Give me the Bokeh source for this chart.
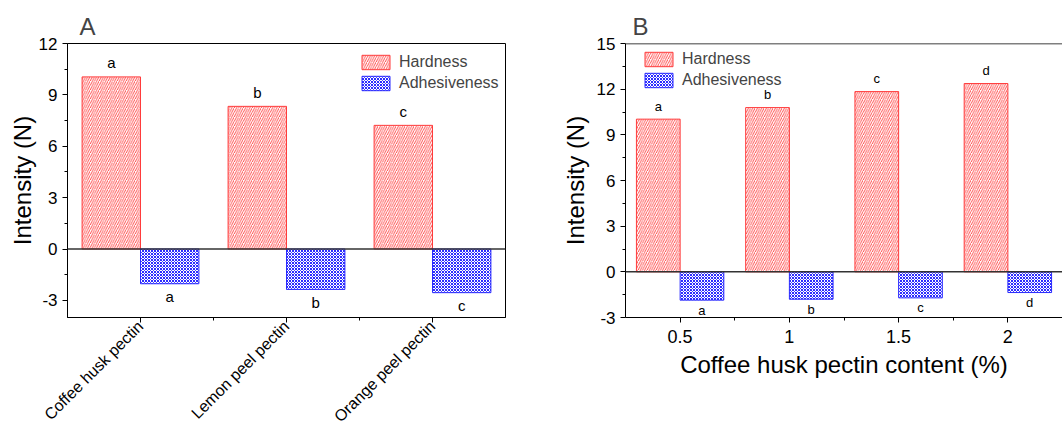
import math
from bokeh.plotting import figure
from bokeh.layouts import row
from bokeh.models import ColumnDataSource, FixedTicker, Span, Legend, LegendItem
from bokeh.transform import dodge
from bokeh.core.properties import value
from bokeh.embed import file_html
from bokeh.resources import INLINE

FONT = "Liberation Sans"

# ---------------- data ----------------
series = ["Hardness", "Adhesiveness"]

a_categories = ["Coffee husk pectin", "Lemon peel pectin", "Orange peel pectin"]
a_hardness = [10.05, 8.33, 7.22]
a_adhesiveness = [-2.03, -2.36, -2.55]
a_hard_letters = ["a", "b", "c"]
a_adh_letters = ["a", "b", "c"]
a_yticks = [-3, 0, 3, 6, 9, 12]

b_content = [0.5, 1.0, 1.5, 2.0]
b_tick_labels = ["0.5", "1", "1.5", "2"]
b_hardness = [10.03, 10.79, 11.84, 12.37]
b_adhesiveness = [-1.86, -1.80, -1.71, -1.36]
b_hard_letters = ["a", "b", "c", "d"]
b_adh_letters = ["a", "b", "c", "d"]
b_yticks = [-3, 0, 3, 6, 9, 12, 15]

RED = "#ff3b3b"
BLUE = "#2b2bff"


def style_axes(p):
    for ax in (p.xaxis[0], p.yaxis[0]):
        ax.axis_line_color = "black"
        ax.axis_line_width = 1
        ax.major_tick_line_color = "black"
        ax.minor_tick_line_color = "black"
        ax.major_tick_out = 5
        ax.major_tick_in = 0
        ax.minor_tick_out = 3
        ax.minor_tick_in = 0
        ax.major_label_text_font = FONT
        ax.axis_label_text_font = FONT
        ax.axis_label_text_font_style = "normal"
        ax.axis_label_text_color = "black"
        ax.major_label_text_color = "black"
    p.xgrid.visible = False
    p.ygrid.visible = False


def bars(p, src, width, off_h, off_a):
    rh = p.vbar(x=dodge("x", off_h), top="hard", bottom=0, width=width, source=src,
                fill_color="white", line_color=RED, line_width=1,
                hatch_pattern="/", hatch_color=RED, hatch_scale=4.5, hatch_weight=0.9)
    ra = p.vbar(x=dodge("x", off_a), top=0, bottom="adh", width=width, source=src,
                fill_color="white", line_color=BLUE, line_width=1,
                hatch_pattern="x", hatch_color=BLUE, hatch_scale=3, hatch_weight=1)
    return rh, ra


def add_legend(p, rh, ra, loc):
    leg = Legend(items=[LegendItem(label=series[0], renderers=[rh]),
                        LegendItem(label=series[1], renderers=[ra])],
                 location=loc, glyph_width=35, glyph_height=18, label_height=18,
                 spacing=3, padding=0, margin=0, label_standoff=6,
                 label_text_font=FONT, label_text_font_size="16px",
                 border_line_color=None, background_fill_alpha=0)
    p.add_layout(leg)


def title(p, txt, off):
    p.title.text = txt
    p.title.text_font = FONT
    p.title.text_font_size = "24px"
    p.title.text_font_style = "normal"
    p.title.offset = off
    p.title.standoff = 7


# ---------------- panel A ----------------
a_x = [i + 1 for i in range(len(a_categories))]
srcA = ColumnDataSource(dict(x=a_x, hard=a_hardness, adh=a_adhesiveness,
                             lh=a_hard_letters, la=a_adh_letters))
pA = figure(width=530, height=434, x_range=(0.5, 3.5), y_range=(-4, 12),
            output_backend="svg", toolbar_location=None,
            min_border_left=67, min_border_right=25, min_border_top=43, min_border_bottom=116)
pA.outline_line_color = "black"
pA.outline_line_width = 1
pA.outline_line_alpha = 1
rh, ra = bars(pA, srcA, 0.4, -0.2, 0.2)
pA.add_layout(Span(location=0, dimension="width", line_color="#333333", line_width=1.5))
pA.text(x=dodge("x", -0.2), y="hard", text="lh", source=srcA, y_offset=-14,
        text_align="center", text_baseline="alphabetic",
        text_font=value(FONT), text_font_size="15px", text_color="black")
pA.text(x=dodge("x", 0.2), y="adh", text="la", source=srcA, y_offset=13,
        text_align="center", text_baseline="alphabetic",
        text_font=value(FONT), text_font_size="15px", text_color="black")
style_axes(pA)
pA.xaxis.ticker = FixedTicker(ticks=a_x, minor_ticks=[1.5, 2.5])
pA.xaxis.major_label_overrides = {x: c for x, c in zip(a_x, a_categories)}
pA.xaxis.major_label_orientation = math.pi / 4
pA.xaxis.major_label_text_font_size = "16px"
pA.xaxis.major_label_standoff = 1
pA.yaxis.ticker = FixedTicker(ticks=a_yticks, minor_ticks=[-1.5, 1.5, 4.5, 7.5, 10.5])
pA.yaxis.major_label_overrides = {t: str(t) for t in a_yticks}
pA.yaxis.major_label_text_font_size = "17px"
pA.yaxis.axis_label = "Intensity (N)"
pA.yaxis.axis_label_text_font_size = "24px"
pA.yaxis.axis_label_standoff = 0
title(pA, "A", 12)
add_legend(pA, rh, ra, (291, 225))

# ---------------- panel B ----------------
srcB = ColumnDataSource(dict(x=b_content, hard=b_hardness, adh=b_adhesiveness,
                             lh=b_hard_letters, la=b_adh_letters))
pB = figure(width=532, height=434, x_range=(0.25, 2.25), y_range=(-3, 15),
            output_backend="svg", toolbar_location=None,
            min_border_left=95, min_border_right=0, min_border_top=43, min_border_bottom=116)
pB.outline_line_color = None
rh2, ra2 = bars(pB, srcB, 0.2, -0.1, 0.1)
pB.add_layout(Span(location=0, dimension="width", line_color="#333333", line_width=1.5))
pB.add_layout(Span(location=15, dimension="width", line_color="black", line_width=1.5))
pB.text(x=dodge("x", -0.1), y="hard", text="lh", source=srcB, y_offset=-13,
        text_align="center", text_baseline="alphabetic",
        text_font=value(FONT), text_font_size="13px", text_color="black")
pB.text(x=dodge("x", 0.1), y="adh", text="la", source=srcB, y_offset=10,
        text_align="center", text_baseline="alphabetic",
        text_font=value(FONT), text_font_size="13px", text_color="black")
style_axes(pB)
pB.xaxis.ticker = FixedTicker(ticks=b_content, minor_ticks=[0.75, 1.25, 1.75])
pB.xaxis.major_label_overrides = {x: t for x, t in zip(b_content, b_tick_labels)}
pB.xaxis.major_label_text_font_size = "18px"
pB.xaxis.major_label_standoff = 7
pB.xaxis.axis_label = "Coffee husk pectin content (%)"
pB.xaxis.axis_label_text_font_size = "24px"
pB.yaxis.ticker = FixedTicker(ticks=b_yticks, minor_ticks=[-1.5, 1.5, 4.5, 7.5, 10.5, 13.5])
pB.yaxis.major_label_overrides = {t: str(t) for t in b_yticks}
pB.yaxis.major_label_text_font_size = "17px"
pB.yaxis.axis_label = "Intensity (N)"
pB.yaxis.axis_label_text_font_size = "24px"
pB.yaxis.axis_label_standoff = 5
title(pB, "B", 7)
add_legend(pB, rh2, ra2, (16, 228))

layout = row(pA, pB)
open("out.html", "w").write(file_html(layout, INLINE))
